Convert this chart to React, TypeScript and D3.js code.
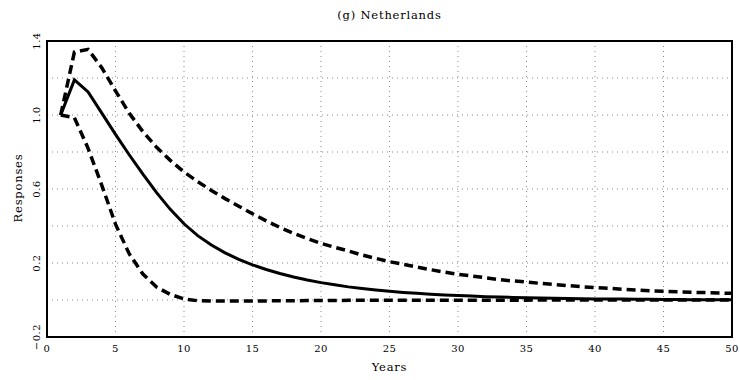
import React from "react";
import * as d3 from "d3";

const years: number[] = Array.from({ length: 50 }, (_, i) => i + 1);

const pointEstimate: number[] = [
  1.0, 1.19, 1.125, 1.01, 0.895, 0.785, 0.68, 0.58, 0.49, 0.412,
  0.348, 0.297, 0.255, 0.22, 0.19, 0.165, 0.143, 0.124, 0.108, 0.094,
  0.082, 0.071, 0.062, 0.054, 0.047, 0.041, 0.036, 0.031, 0.027, 0.024,
  0.021, 0.018, 0.016, 0.014, 0.012, 0.011, 0.009, 0.008, 0.007, 0.006,
  0.005, 0.005, 0.004, 0.004, 0.003, 0.003, 0.002, 0.002, 0.002, 0.002,
];

const upperBand: number[] = [
  1.0, 1.34, 1.355, 1.255, 1.13, 1.01, 0.91, 0.825, 0.755, 0.692,
  0.64, 0.592, 0.548, 0.507, 0.466, 0.428, 0.392, 0.36, 0.332, 0.306,
  0.285, 0.265, 0.243, 0.225, 0.207, 0.193, 0.178, 0.164, 0.151, 0.139,
  0.13, 0.12, 0.11, 0.103, 0.097, 0.09, 0.084, 0.078, 0.072, 0.067,
  0.063, 0.058, 0.054, 0.05, 0.047, 0.044, 0.042, 0.04, 0.038, 0.036,
];

const lowerBand: number[] = [
  1.0, 0.985, 0.82, 0.62, 0.41, 0.25, 0.14, 0.07, 0.03, 0.006,
  -0.004, -0.006, -0.006, -0.006, -0.005, -0.005, -0.004, -0.004, -0.003, -0.003,
  -0.003, -0.002, -0.002, -0.002, -0.002, -0.002, -0.001, -0.001, -0.001, -0.001,
  -0.001, -0.001, -0.001, -0.001, -0.001, 0.0, 0.0, 0.0, 0.0, 0.0,
  0.0, 0.0, 0.0, 0.0, 0.0, 0.0, 0.0, 0.0, 0.0, 0.0,
];

const xTicks: number[] = [0, 5, 10, 15, 20, 25, 30, 35, 40, 45, 50];
const yGrid: number[] = [-0.2, 0, 0.2, 0.4, 0.6, 0.8, 1.0, 1.2, 1.4];
const yTickLabels: number[] = [-0.2, 0.2, 0.6, 1.0, 1.4];

const title = "(g) Netherlands";
const xTitle = "Years";
const yTitle = "Responses";

const W = 740;
const H = 380;
const left = 47;
const right = 732;
const top = 41;
const bottom = 337;

const FONT = "'DejaVu Serif', 'Liberation Serif', serif";

export default function App() {
  const x = d3.scaleLinear().domain([0, 50]).range([left, right]);
  const y = d3.scaleLinear().domain([-0.2, 1.4]).range([bottom, top]);

  const mk = (vals: number[]) =>
    d3
      .line<number>()
      .x((_, i) => x(years[i]))
      .y((d) => y(d))(vals) || "";

  const fmt = (v: number) => (v < 0 ? "\u2212" + Math.abs(v).toFixed(1) : v.toFixed(1));

  return (
    <svg
      width={W}
      height={H}
      style={{ position: "absolute", left: 0, top: 0, background: "#fff" }}
    >
      <rect x={0} y={0} width={W} height={H} fill="#fff" />
      <text
        x={(left + right) / 2}
        y={19}
        textAnchor="middle"
        fontFamily={FONT}
        fontSize={11.5}
        letterSpacing={0.8}
        fill="#000"
      >
        {title}
      </text>

      {/* grid */}
      <g stroke="#888" strokeWidth={1} strokeDasharray="1,4">
        {xTicks.slice(1, -1).map((t) => (
          <line key={"gx" + t} x1={x(t)} x2={x(t)} y1={top} y2={bottom} />
        ))}
        {yGrid.slice(1, -1).map((v) => (
          <line key={"gy" + v} x1={left} x2={right} y1={y(v)} y2={y(v)} />
        ))}
      </g>

      {/* series */}
      <path d={mk(upperBand)} fill="none" stroke="#000" strokeWidth={3.5} strokeDasharray="9,5" />
      <path d={mk(lowerBand)} fill="none" stroke="#000" strokeWidth={3.5} strokeDasharray="9,5" />
      <path d={mk(pointEstimate)} fill="none" stroke="#000" strokeWidth={3} />

      {/* frame */}
      <rect
        x={left}
        y={top}
        width={right - left}
        height={bottom - top}
        fill="none"
        stroke="#000"
        strokeWidth={2}
      />

      {/* x tick labels */}
      {xTicks.map((t) => (
        <text
          key={"xt" + t}
          x={x(t)}
          y={352}
          textAnchor="middle"
          fontFamily={FONT}
          fontSize={10}
          letterSpacing={0.5}
          fill="#000"
        >
          {t}
        </text>
      ))}

      {/* y tick labels */}
      {yTickLabels.map((v) => (
        <text
          key={"yt" + v}
          transform={`translate(40,${y(v)}) rotate(-90)`}
          textAnchor="middle"
          fontFamily={FONT}
          fontSize={10}
          letterSpacing={0.5}
          fill="#000"
        >
          {fmt(v)}
        </text>
      ))}

      <text
        x={(left + right) / 2}
        y={371}
        textAnchor="middle"
        fontFamily={FONT}
        fontSize={11.5}
        letterSpacing={0.8}
        fill="#000"
      >
        {xTitle}
      </text>
      <text
        transform={`translate(22,188) rotate(-90)`}
        textAnchor="middle"
        fontFamily={FONT}
        fontSize={11.5}
        letterSpacing={0.8}
        fill="#000"
      >
        {yTitle}
      </text>
    </svg>
  );
}
